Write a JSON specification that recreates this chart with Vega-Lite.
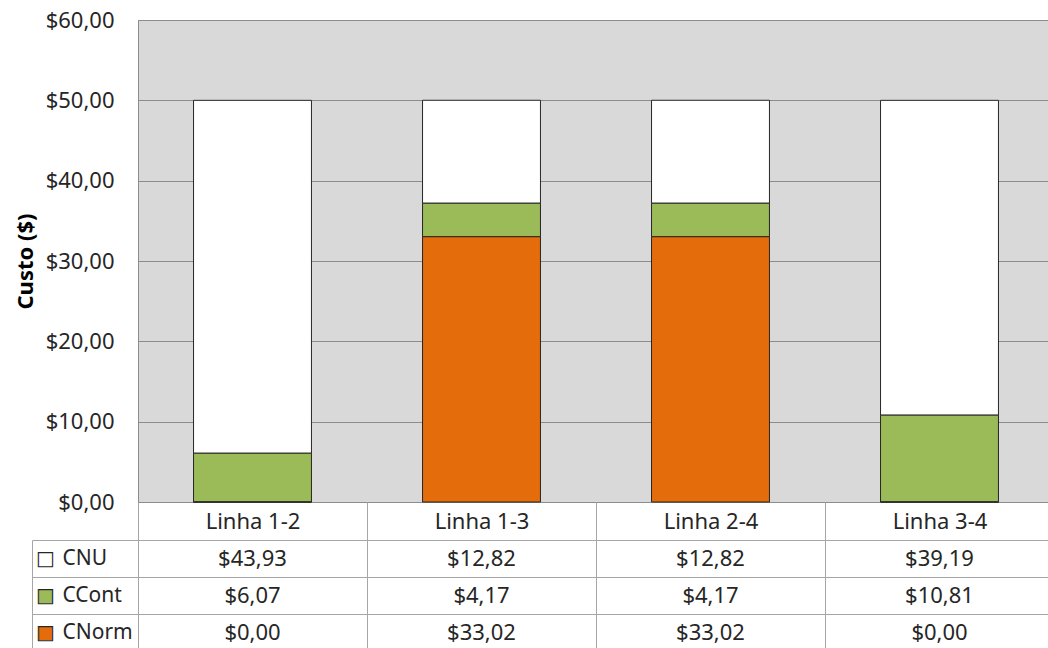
{
  "$schema": "https://vega.github.io/schema/vega-lite/v6.json",
  "background": "white",
  "padding": {"left": 13, "top": 8, "right": 0, "bottom": 0},
  "autosize": {"type": "pad"},
  "spacing": 38,
  "bounds": "flush",
  "datasets": {
    "costs": [
      {"linha": "Linha 1-2", "serie": "CNU", "custo": 43.93},
      {"linha": "Linha 1-2", "serie": "CCont", "custo": 6.07},
      {"linha": "Linha 1-2", "serie": "CNorm", "custo": 0.0},
      {"linha": "Linha 1-3", "serie": "CNU", "custo": 12.82},
      {"linha": "Linha 1-3", "serie": "CCont", "custo": 4.17},
      {"linha": "Linha 1-3", "serie": "CNorm", "custo": 33.02},
      {"linha": "Linha 2-4", "serie": "CNU", "custo": 12.82},
      {"linha": "Linha 2-4", "serie": "CCont", "custo": 4.17},
      {"linha": "Linha 2-4", "serie": "CNorm", "custo": 33.02},
      {"linha": "Linha 3-4", "serie": "CNU", "custo": 39.19},
      {"linha": "Linha 3-4", "serie": "CCont", "custo": 10.81},
      {"linha": "Linha 3-4", "serie": "CNorm", "custo": 0.0}
    ]
  },
  "vconcat": [
    {
      "width": 916,
      "height": 482,
      "data": {"name": "costs"},
      "transform": [
        {"calculate": "indexof(['CNorm','CCont','CNU'], datum.serie)", "as": "ord"}
      ],
      "view": {"fill": "#d9d9d9", "stroke": "#8c8c8c"},
      "mark": {"type": "bar", "stroke": "#262626", "strokeWidth": 1, "width": {"band": 0.515}},
      "encoding": {
        "x": {
          "field": "linha", "type": "nominal", "sort": null,
          "scale": {"paddingInner": 0, "paddingOuter": 0},
          "title": null,
          "axis": {
            "orient": "bottom", "labelAngle": 0, "domain": false,
            "ticks": true, "tickBand": "extent", "tickSize": 38, "tickColor": "#a6a6a6", "tickWidth": 1,
            "labelPadding": -19, "labelBaseline": "middle", "labelFontSize": 22, "labelColor": "#262626",
            "labelFont": "Noto Sans", "grid": false, "minExtent": 38, "maxExtent": 38
          }
        },
        "y": {
          "field": "custo", "type": "quantitative", "stack": "zero",
          "scale": {"domain": [0, 60], "nice": false},
          "title": "Custo ($)",
          "axis": {
            "values": [0, 10, 20, 30, 40, 50, 60],
            "grid": true, "gridColor": "#8c8c8c", "ticks": false, "tickSize": 0, "domain": false,
            "labelExpr": "replace(format(datum.value, '$.2f'), '.', ',')",
            "labelFont": "Noto Sans", "labelFontSize": 22, "labelPadding": 24, "labelColor": "#262626",
            "titleFont": "Noto Sans", "titleFontSize": 22, "titleFontWeight": "bold", "titlePadding": 8, "titleColor": "#000000"
          }
        },
        "color": {
          "field": "serie", "type": "nominal",
          "scale": {"domain": ["CNU", "CCont", "CNorm"], "range": ["#ffffff", "#9bbb59", "#e46c0a"]},
          "legend": null
        },
        "order": {"field": "ord", "type": "quantitative"}
      }
    },
    {
      "width": 916,
      "height": 111,
      "data": {"name": "costs"},
      "transform": [
        {"calculate": "replace(format(datum.custo, '$.2f'), '.', ',')", "as": "rotulo"}
      ],
      "view": {"fill": "white", "stroke": "#a6a6a6"},
      "layer": [
        {
          "mark": {"type": "text", "fontSize": 22, "color": "#262626", "font": "Noto Sans"},
          "encoding": {
            "x": {
              "field": "linha", "type": "nominal", "sort": null,
              "scale": {"paddingInner": 0, "paddingOuter": 0},
              "title": null,
              "axis": {"grid": true, "tickBand": "extent", "labels": false, "ticks": false, "domain": false, "gridColor": "#a6a6a6", "title": null}
            },
            "y": {
              "field": "serie", "type": "nominal",
              "scale": {"domain": ["CNU", "CCont", "CNorm"], "paddingInner": 0, "paddingOuter": 0},
              "title": null,
              "axis": {
                "orient": "left", "grid": true, "tickBand": "extent", "gridColor": "#a6a6a6",
                "ticks": true, "tickSize": 106, "tickColor": "#a6a6a6", "domain": false,
                "labelAlign": "left", "labelPadding": -30, "labelBaseline": "middle",
                "labelFont": "Noto Sans", "labelFontSize": 21, "labelColor": "#262626"
              }
            },
            "text": {"field": "rotulo"}
          }
        },
        {
          "mark": {"type": "text", "text": "", "opacity": 0},
          "encoding": {
            "y": {
              "field": "serie", "type": "nominal", "title": null,
              "axis": {
                "orient": "left", "offset": 106, "domain": true, "domainColor": "#a6a6a6",
                "ticks": false, "tickSize": 0, "grid": false,
                "labelExpr": "'■'", "labelFont": "DejaVu Sans", "labelFontSize": 18,
                "labelAlign": "center", "labelBaseline": "middle", "labelPadding": -13,
                "labelColor": {
                  "condition": [
                    {"test": "datum.value === 'CCont'", "value": "#9bbb59"},
                    {"test": "datum.value === 'CNorm'", "value": "#e46c0a"}
                  ],
                  "value": "#ffffff"
                }
              }
            }
          }
        },
        {
          "mark": {"type": "text", "text": "", "opacity": 0},
          "encoding": {
            "y": {
              "field": "serie", "type": "nominal", "title": null,
              "axis": {
                "orient": "left", "offset": 106, "domain": false,
                "ticks": false, "tickSize": 0, "grid": false,
                "labelExpr": "'□'", "labelFont": "DejaVu Sans", "labelFontSize": 20,
                "labelAlign": "center", "labelBaseline": "middle", "labelPadding": -13,
                "labelColor": "#262626"
              }
            }
          }
        }
      ],
      "resolve": {"axis": {"y": "independent"}}
    }
  ]
}
